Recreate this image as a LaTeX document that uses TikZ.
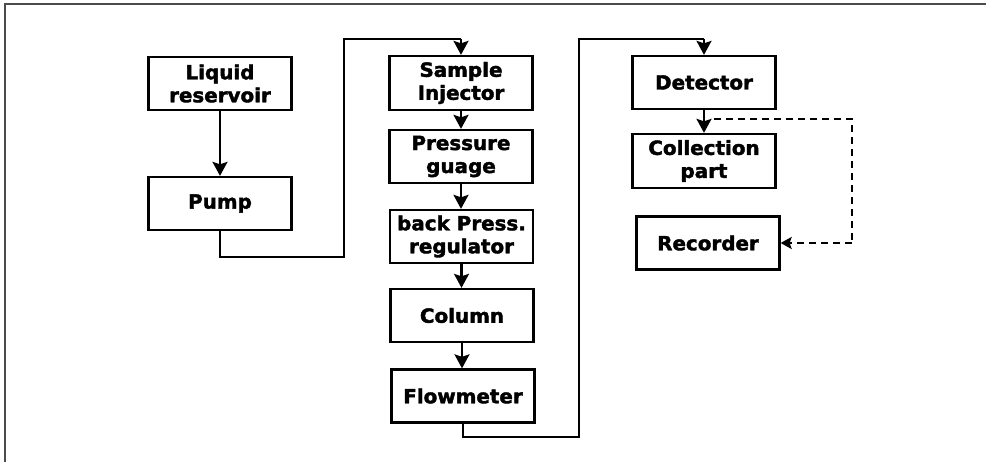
\documentclass[tikz,border=0pt]{standalone}
\usepackage{fontspec}
\setmainfont{DejaVu Sans}[FakeStretch=1.02, BoldFeatures={FakeBold=2}]
\usetikzlibrary{arrows.meta}
\begin{document}
\begin{tikzpicture}[x=1pt,y=-1pt,
  blk/.style={draw, line width=2.3pt, minimum width=143pt, minimum height=53pt, inner sep=0pt, align=center,
    font=\fontsize{19.5}{23}\selectfont\bfseries},
  flowline/.style={line width=2.2pt},
  arr/.style={line width=2.2pt, -{Stealth[width=15pt,length=14pt,inset=2.5pt]}},
  dashline/.style={line width=2pt, dash pattern=on 7pt off 5pt}
]
\useasboundingbox (0,0) rectangle (986,462);
\draw[line width=1.5pt, black!70] (5,462) -- (5,4) -- (986,4);

\node[blk] (res) at (220,83.5) {Liquid\\reservoir};
\node[blk] (pump) at (220,203.5) {Pump};
\node[blk, minimum height=54pt] (inj) at (461,83) {Sample\\Injector};
\node[blk] (gauge) at (461,156.5) {Pressure\\guage};
\node[blk] (bpr) at (461.5,236.5) {back Press.\\regulator};
\node[blk] (col) at (462,315.5) {Column};
\node[blk] (flow) at (463,396) {Flowmeter};
\node[blk] (det) at (704,82.5) {Detector};
\node[blk, minimum height=54pt] (coll) at (704,161) {Collection\\part};
\node[blk] (rec) at (708,243) {Recorder};

\coordinate (p1) at (220,257);
\coordinate (p2) at (344,257);
\coordinate (p3) at (344,39);
\coordinate (p4) at (461,39);
\coordinate (f1) at (463,437);
\coordinate (f2) at (579,437);
\coordinate (f3) at (579,39);
\coordinate (f4) at (704,39);
\coordinate (d1) at (714,119);
\coordinate (d2) at (852,119);
\coordinate (d3) at (852,243);

\draw[arr] (res) -- (pump);
\draw[flowline] (pump.south) -- (p1) -- (p2) -- (p3) -- (p4);
\draw[arr] (p4) -- (inj.north);
\draw[arr] (inj) -- (gauge);
\draw[arr] (gauge.south) -- (gauge.south |- bpr.north);
\draw[arr] (bpr.south) -- (bpr.south |- col.north);
\draw[arr] (col.south) -- (col.south |- flow.north);
\draw[flowline] (flow.south) -- (f1) -- (f2) -- (f3) -- (f4);
\draw[arr] (f4) -- (det.north);
\draw[arr] (det) -- (coll);
\draw[dashline] (d1) -- (d2) -- (d3);
\draw[dashline, -{Stealth[width=12pt,length=11pt,inset=2pt]}] (d3) -- (rec.east);
\end{tikzpicture}
\end{document}
